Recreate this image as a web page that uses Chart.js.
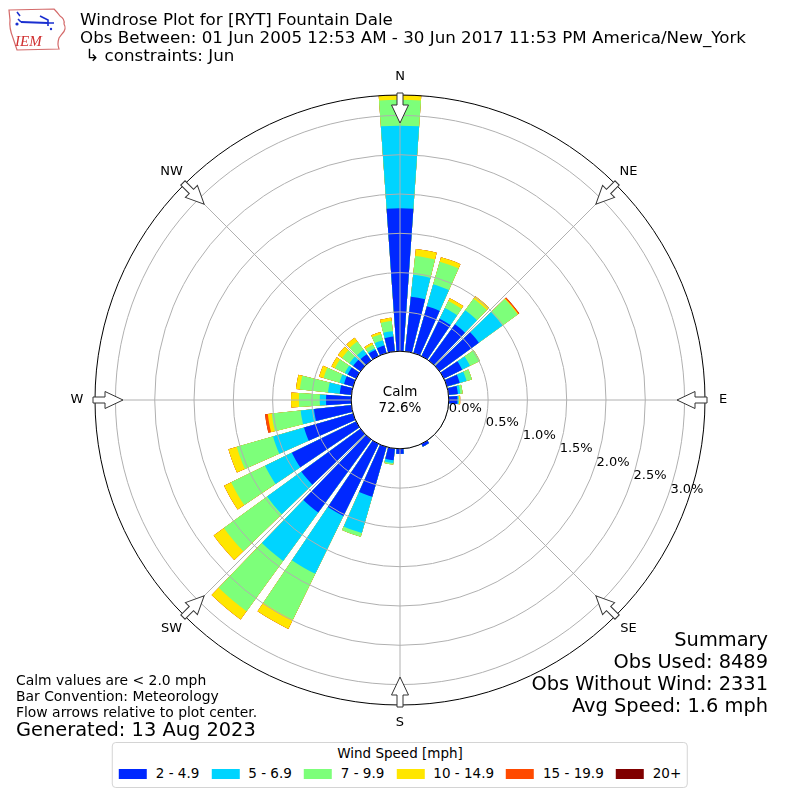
<!DOCTYPE html>
<html>
<head>
<meta charset="utf-8">
<title>Windrose Plot for [RYT] Fountain Dale</title>
<script src="https://cdn.jsdelivr.net/npm/chart.js@4.4.0/dist/chart.umd.min.js"></script>
<style>
  body { margin: 0; background: #fff; font-family: 'DejaVu Sans', sans-serif; color: #000; }
  #wrap { position: relative; width: 800px; height: 800px; overflow: hidden; }
  #wrap canvas { position: absolute; left: 0; top: 0; }
  .txt { position: absolute; white-space: pre; }
  #title { left: 80px; top: 10px; font-size: 16.7px; line-height: 18px; }
  #notes { left: 16px; top: 672px; font-size: 13.9px; line-height: 16px; }
  #generated { left: 16px; top: 719px; font-size: 19.4px; line-height: 22px; }
  #summary { right: 32px; top: 629px; font-size: 19.4px; line-height: 22px; text-align: right; }
  #legend { position: absolute; left: 50%; transform: translateX(-50%); top: 742px;
            border: 1px solid #d4d4d4; border-radius: 4px; padding: 2px 6px 5px 6px;
            font-size: 13.5px; line-height: 17px; background: #fff; white-space: nowrap; }
  #legend .ltitle { text-align: center; }
  #litems { margin-top: 3px; }
  #legend .item { display: inline-block; margin-right: 12px; }
  #legend .item:last-child { margin-right: 0; }
  #legend .sw { display: inline-block; width: 28px; height: 10px; margin-right: 9px; vertical-align: -1px; }
  #logo { position: absolute; left: 4px; top: 4px; }
</style>
</head>
<body>
<div id="wrap">
  <canvas id="rose" width="800" height="800"></canvas>
  <svg id="logo" width="64" height="50" viewBox="0 0 64 50">
    <path d="M5,6 L50,5 Q53,8 56,12 Q61,15 60,20 Q63,25 58,30 L55,34 Q53,40 55,45 L13,46 Q11,40 9,34 Q5,24 6,16 Z"
          fill="#fff" stroke="#d46a6a" stroke-width="1.2"/>
    <path d="M13,8 L16,12 M14,15 L17,18" stroke="#1a2fd0" stroke-width="1.6" fill="none"/>
    <circle cx="13" cy="20" r="1.6" fill="#1a2fd0"/>
    <path d="M17,18 L44,19" stroke="#1a2fd0" stroke-width="2.2"/>
    <path d="M36,12 L44,16 L44,22 M44,19 L50,19" stroke="#1a2fd0" stroke-width="1.6" fill="none"/>
    <circle cx="47" cy="25" r="1.2" fill="#1a2fd0"/>
    <text x="11" y="42" font-family="Liberation Serif, serif" font-style="italic" font-size="15" fill="#d03030">IEM</text>
  </svg>
  <div id="title" class="txt">Windrose Plot for [RYT] Fountain Dale
Obs Between: 01 Jun 2005 12:53 AM - 30 Jun 2017 11:53 PM America/New_York
 ↳ constraints: Jun</div>
  <div id="notes" class="txt">Calm values are &lt; 2.0 mph
Bar Convention: Meteorology
Flow arrows relative to plot center.</div>
  <div id="generated" class="txt">Generated: 13 Aug 2023</div>
  <div id="summary" class="txt">Summary
Obs Used: 8489
Obs Without Wind: 2331
Avg Speed: 1.6 mph</div>
  <div id="legend"><div class="ltitle">Wind Speed [mph]</div><div id="litems"></div></div>
</div>
<script>
// direction bins (degrees, meteorological) and frequency (% of all obs) per speed bin
const directions = [0, 10, 20, 30, 40, 50, 60, 70, 80, 90, 100, 110, 120, 130, 140, 150, 160, 170,
                    180, 190, 200, 210, 220, 230, 240, 250, 260, 270, 280, 290, 300, 310, 320, 330, 340, 350];
const speedBins = ['2 - 4.9', '5 - 6.9', '7 - 9.9', '10 - 14.9', '15 - 19.9', '20+'];
const speedColors = ['#0028ff', '#00d4ff', '#7dff7a', '#ffe600', '#ff4a00', '#800000'];

const pct2to5 = [1.82, 0.70, 0.62, 0.53, 0.57, 0.62, 0.26, 0.17, 0.12, 0.11, 0, 0, 0, 0, 0, 0.04, 0, 0,
                 0.065, 0.15, 0.66, 1.02, 1.15, 0.93, 0.91, 0.65, 0.48, 0.32, 0.15, 0.12, 0.12, 0.115, 0.10, 0.09, 0.10, 0.19];
const pct5to7 = [1.05, 0.28, 0.29, 0.15, 0.22, 0.37, 0.11, 0.09, 0.03, 0.015, 0, 0, 0, 0, 0, 0, 0, 0,
                 0, 0.035, 0.48, 0.82, 0.76, 0.54, 0.38, 0.41, 0.17, 0.08, 0.15, 0.06, 0.04, 0.06, 0.07, 0.02, 0.07, 0.07];
const pct7to10 = [0.33, 0.24, 0.30, 0.10, 0.18, 0.24, 0.14, 0.07, 0.03, 0, 0, 0, 0, 0, 0, 0, 0, 0,
                  0, 0.02, 0.05, 0.65, 0.79, 0.68, 0.48, 0.48, 0.37, 0.265, 0.36, 0.21, 0.14, 0.115, 0.13, 0.05, 0.08, 0.13];
const pct10to15 = [0.06, 0.09, 0.06, 0.04, 0.04, 0.01, 0, 0, 0, 0.02, 0, 0, 0, 0, 0, 0, 0, 0,
                   0, 0, 0, 0.13, 0.13, 0.16, 0.10, 0.11, 0.05, 0.10, 0.05, 0.06, 0.05, 0.065, 0.06, 0.03, 0.03, 0.04];
const pct15to20 = [0, 0, 0, 0, 0, 0.015, 0, 0, 0, 0, 0, 0, 0, 0, 0, 0, 0, 0,
                   0, 0, 0, 0, 0, 0, 0, 0, 0.035, 0, 0, 0, 0, 0, 0, 0, 0, 0];
const pct20plus = [0, 0, 0, 0, 0, 0, 0, 0, 0, 0, 0, 0, 0, 0, 0, 0, 0, 0,
                   0, 0, 0, 0, 0, 0, 0, 0, 0, 0, 0, 0, 0, 0, 0, 0, 0, 0];

const calmPercent = '72.6%';
const compassLabels = ['N', 'NE', 'E', 'SE', 'S', 'SW', 'W', 'NW'];
const tickValues = [0, 0.5, 1.0, 1.5, 2.0, 2.5, 3.0];
const tickLabels = ['0.0%', '0.5%', '1.0%', '1.5%', '2.0%', '2.5%', '3.0%'];

const barOpening = 8;      // degrees of each 10 degree sector that the bar fills
const sectorWidth = 10;
const calmHole = 0.16;     // calm circle radius as a share of the plot radius

const stacks = [pct2to5, pct5to7, pct7to10, pct10to15, pct15to20, pct20plus];

// cumulative totals, one ring per speed bin
let running = directions.map(() => 0);
const cumulative = stacks.map(vals => {
    running = running.map((v, i) => v + vals[i]);
    return running.slice();
});
const totals = cumulative[cumulative.length - 1];
const rMax = Math.max(...totals);
const rMin = -rMax * calmHole / (1 - calmHole);

// each sector becomes a bar slice followed by an empty gap slice
const labels = [];
directions.forEach(d => { labels.push(d + '°'); labels.push(''); });

const datasets = cumulative.map((vals, k) => {
    const data = [];
    vals.forEach(v => { data.push(v); data.push(rMin); });
    return {
        label: speedBins[k],
        data: data,
        backgroundColor: ctx => (ctx.index % 2 ? 'rgba(0,0,0,0)' : speedColors[k]),
        borderWidth: 0,
        angle: ctx => (ctx.index % 2 ? sectorWidth - barOpening : barOpening)
    };
});

// legend built from the same bins and colours
const litems = document.getElementById('litems');
speedBins.forEach((name, i) => {
    const item = document.createElement('span');
    item.className = 'item';
    item.innerHTML = '<span class="sw" style="background:' + speedColors[i] + '"></span>' + name;
    litems.appendChild(item);
});

const roseDecor = {
    id: 'roseDecor',
    afterDraw(chart) {
        const s = chart.scales.r;
        const ctx = chart.ctx;
        const cx = s.xCenter, cy = s.yCenter, R = s.drawingArea;
        const r0 = s.getDistanceFromCenterForValue(0);
        ctx.save();

        // spokes every 45 degrees
        ctx.strokeStyle = '#b0b0b0';
        ctx.lineWidth = 1;
        compassLabels.forEach((lab, i) => {
            const a = (i * 45 - 90) * Math.PI / 180;
            ctx.beginPath();
            ctx.moveTo(cx, cy);
            ctx.lineTo(cx + R * Math.cos(a), cy + R * Math.sin(a));
            ctx.stroke();
        });

        // calm circle
        ctx.beginPath();
        ctx.arc(cx, cy, r0, 0, Math.PI * 2);
        ctx.fillStyle = '#fff';
        ctx.fill();
        ctx.strokeStyle = '#000';
        ctx.stroke();
        ctx.fillStyle = '#000';
        ctx.font = '13.5px "DejaVu Sans"';
        ctx.textAlign = 'center';
        ctx.textBaseline = 'middle';
        ctx.fillText('Calm', cx, cy - 8);
        ctx.fillText(calmPercent, cx, cy + 8);

        // radial tick labels along a ray 20 degrees below east
        const ta = 20 * Math.PI / 180;
        ctx.font = '13px "DejaVu Sans"';
        ctx.textAlign = 'left';
        tickValues.forEach((v, i) => {
            const d = s.getDistanceFromCenterForValue(v);
            ctx.fillText(tickLabels[i], cx + d * Math.cos(ta) + 3, cy + d * Math.sin(ta) - 8);
        });

        // flow arrows and compass labels
        ctx.textAlign = 'center';
        compassLabels.forEach((lab, i) => {
            const a = (i * 45 - 90) * Math.PI / 180;
            ctx.save();
            ctx.translate(cx, cy);
            ctx.rotate(a);
            ctx.beginPath();
            ctx.moveTo(R + 2, -3);
            ctx.lineTo(R - 10, -3);
            ctx.lineTo(R - 10, -8.5);
            ctx.lineTo(R - 28, 0);
            ctx.lineTo(R - 10, 8.5);
            ctx.lineTo(R - 10, 3);
            ctx.lineTo(R + 2, 3);
            ctx.closePath();
            ctx.fillStyle = '#fff';
            ctx.fill();
            ctx.strokeStyle = '#333';
            ctx.lineWidth = 1;
            ctx.stroke();
            ctx.restore();
            ctx.fillStyle = '#000';
            ctx.fillText(lab, cx + (R + 18) * Math.cos(a), cy + (R + 18) * Math.sin(a));
        });
        ctx.restore();
    }
};

new Chart(document.getElementById('rose'), {
    type: 'polarArea',
    data: { labels: labels, datasets: datasets },
    options: {
        responsive: false,
        animation: false,
        events: [],
        layout: { padding: { left: 95, right: 95, top: 95, bottom: 95 } },
        plugins: {
            legend: { display: false },
            tooltip: { enabled: false }
        },
        scales: {
            r: {
                min: rMin,
                max: rMax,
                startAngle: -barOpening / 2,
                angleLines: { display: false },
                pointLabels: { display: false },
                ticks: { display: false },
                grid: {
                    z: 1,
                    circular: true,
                    lineWidth: 1,
                    color: ctx => (ctx.tick && ctx.tick.value >= rMax - 1e-9 ? '#000' : '#b0b0b0')
                },
                afterBuildTicks: axis => {
                    axis.ticks = [rMin].concat(tickValues, [rMax]).map(v => ({ value: v }));
                }
            }
        }
    },
    plugins: [roseDecor]
});
</script>
</body>
</html>
